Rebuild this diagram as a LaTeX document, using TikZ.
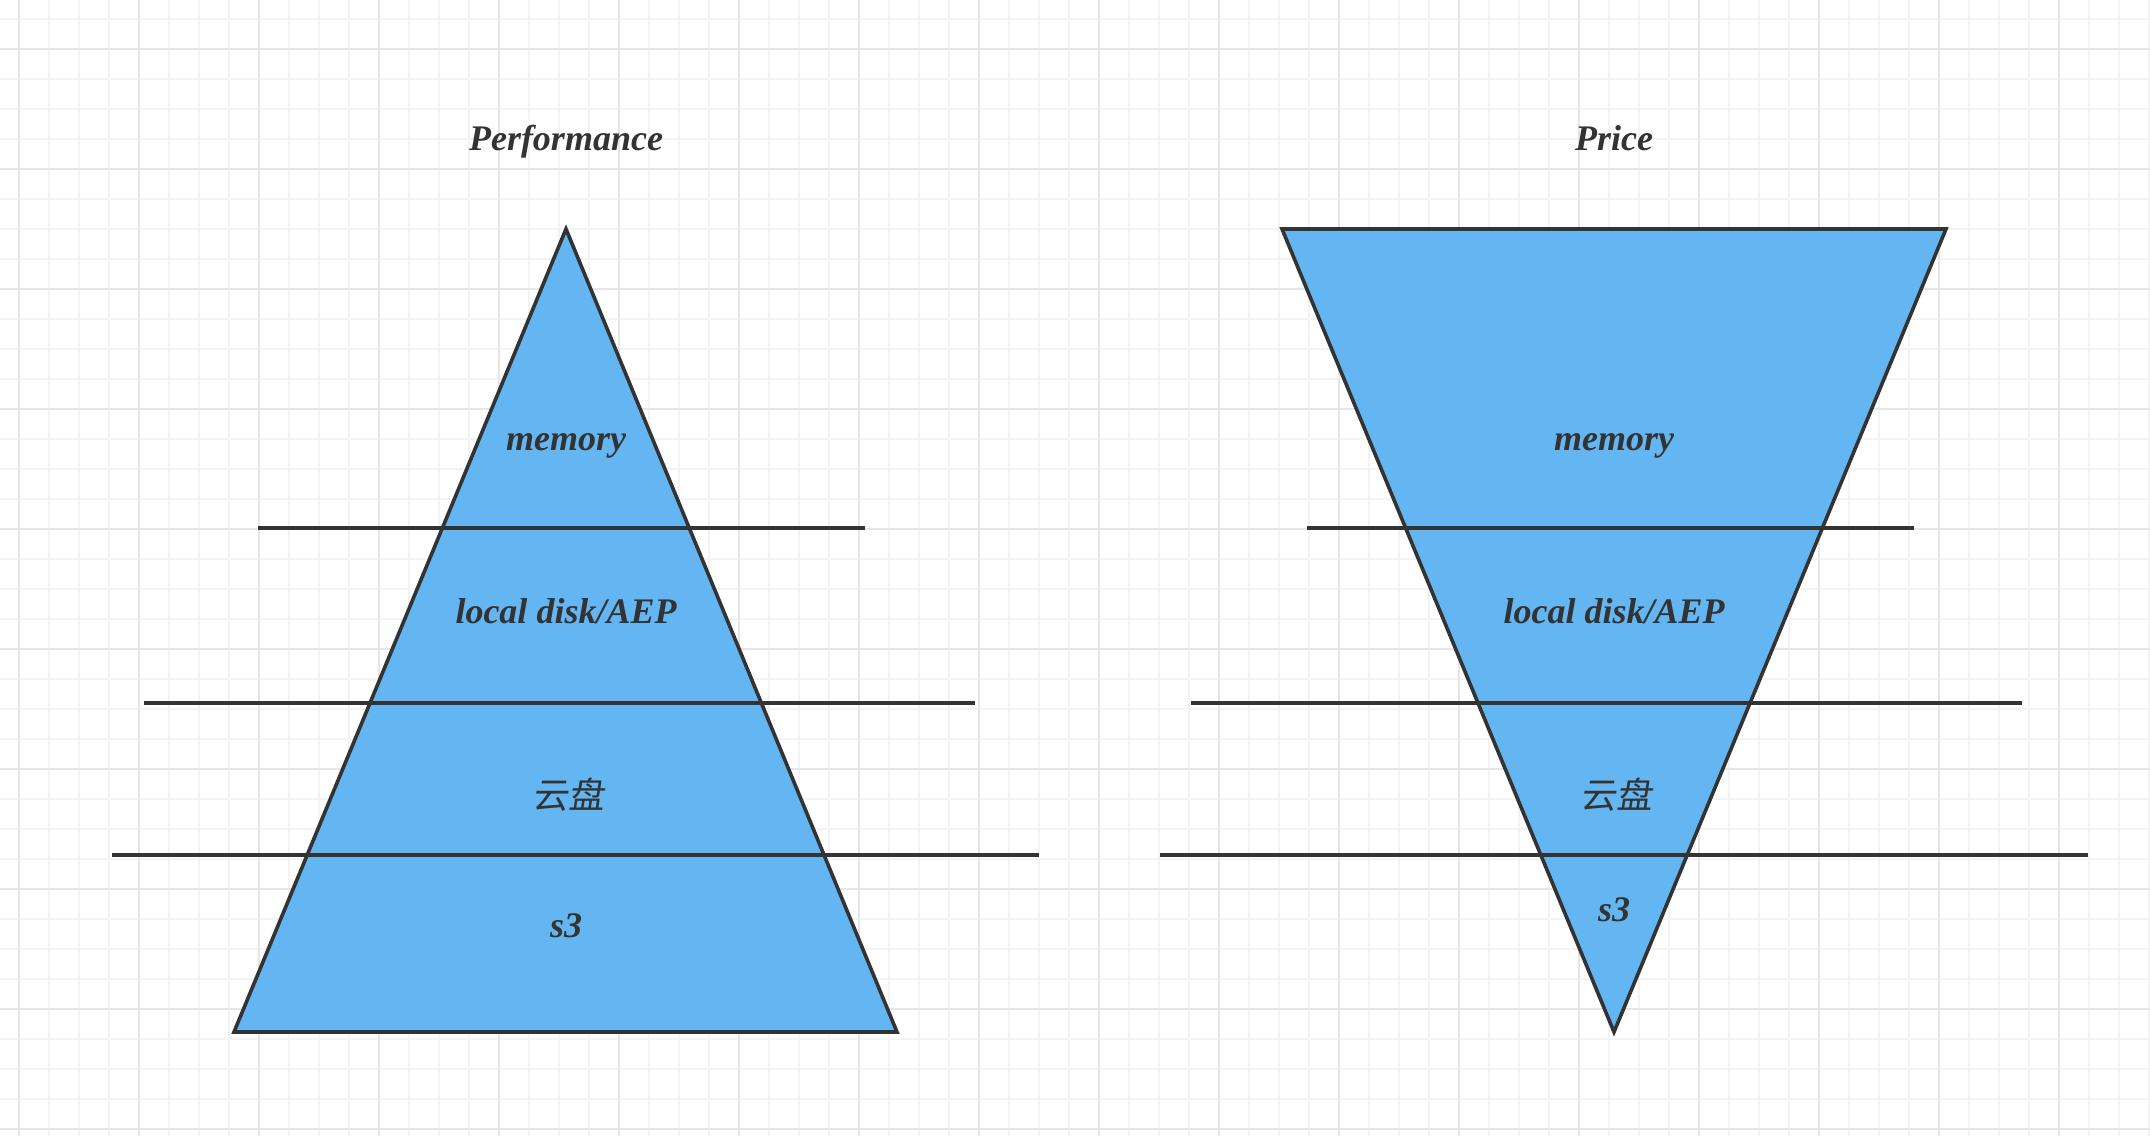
\documentclass[tikz,border=0pt]{standalone}
\usepackage{fontspec}
\setmainfont{Liberation Serif}
\newfontfamily\cjkfont[FakeSlant=0.15]{Noto Sans CJK SC}
\definecolor{gridminor}{HTML}{F3F3F3}
\definecolor{gridmajor}{HTML}{E6E6E6}
\definecolor{tierfill}{HTML}{64B6F2}
\definecolor{ink}{HTML}{333333}
\begin{document}
\begin{tikzpicture}[x=1pt,y=-1pt,
  outline/.style={draw=ink,line width=3.6pt,line join=miter},
  divider/.style={draw=ink,line width=3.6pt},
  lbl/.style={text=ink,font=\fontsize{36}{40}\selectfont\bfseries\itshape,anchor=base,inner sep=0pt},
  cjklbl/.style={text=ink,font=\fontsize{36}{40}\selectfont\cjkfont,anchor=base,inner sep=0pt}]
\useasboundingbox (0,0) rectangle (2150,1136);
\fill[white] (0,0) rectangle (2150,1136);
% grid
\foreach \i in {0,...,71} {\draw[gridminor,line width=2pt] ({19+30*\i},0) -- ({19+30*\i},1136);}
\foreach \i in {0,...,37} {\draw[gridminor,line width=2pt] (0,{19+30*\i}) -- (2150,{19+30*\i});}
\foreach \i in {0,...,17} {\draw[gridmajor,line width=2pt] ({19+120*\i},0) -- ({19+120*\i},1136);}
\foreach \i in {0,...,9} {\draw[gridmajor,line width=2pt] (0,{49+120*\i}) -- (2150,{49+120*\i});}
% left pyramid
\path[outline,fill=tierfill] (566,229) -- (897,1032) -- (234,1032) -- cycle;
\draw[divider] (258,528) -- (865,528);
\draw[divider] (144,703) -- (975,703);
\draw[divider] (112,855) -- (1039,855);
% right inverted pyramid
\path[outline,fill=tierfill] (1282,229) -- (1946,229) -- (1614,1032) -- cycle;
\draw[divider] (1307,528) -- (1914,528);
\draw[divider] (1191,703) -- (2022,703);
\draw[divider] (1160,855) -- (2088,855);
% titles
\node[lbl] (perf) at (566,150) {Performance};
\node[lbl] (price) at (1614,150) {Price};
% left labels
\node[lbl] (lmem) at (566,450) {memory};
\node[lbl] (ldisk) at (566,623) {local disk/AEP};
\node[cjklbl] (lcloud) at (568,808) {云盘};
\node[lbl] (ls3) at (566,937) {s3};
% right labels
\node[lbl] (rmem) at (1614,450) {memory};
\node[lbl] (rdisk) at (1614,623) {local disk/AEP};
\node[cjklbl] (rcloud) at (1616,808) {云盘};
\node[lbl] (rs3) at (1614,921) {s3};
\end{tikzpicture}
\end{document}
